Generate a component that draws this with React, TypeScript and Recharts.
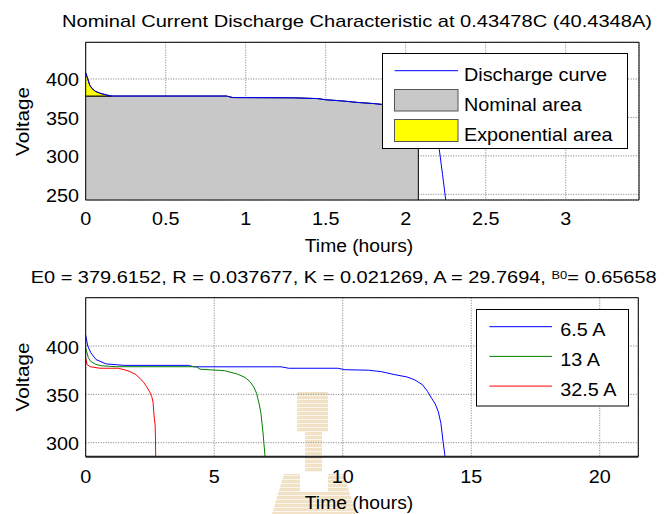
import React from "react";
import {
  ComposedChart,
  Line,
  Area,
  XAxis,
  YAxis,
  CartesianGrid,
  Legend,
  ReferenceLine,
} from "recharts";

const FONT = "'Liberation Sans', Arial, Helvetica, sans-serif";
const SX = 1.1;

// Upper plot: discharge at nominal current (40.4348 A)
const dischargeTime = [
  0, 0.01, 0.025, 0.04, 0.06, 0.09, 0.13, 0.16, 0.88, 0.92, 1.3, 1.45, 1.5, 1.6,
  1.7, 1.8, 1.9, 2.0, 2.079, 2.13, 2.17, 2.21, 2.23, 2.25, 2.26,
];
const dischargeVolt = [
  408, 402, 392, 387.5, 384, 381.4, 379.2, 377.8, 377.8, 375.8, 375.5, 374.5, 373,
  371.5, 369.5, 368, 366, 362, 356, 345, 330, 308, 276, 243, 228,
];
const nominalTime = 2.079;
const expLevel = 377.8;
const expEndTime = 0.16;
const topXTicks = [0, 0.5, 1, 1.5, 2, 2.5, 3];
const topYTicks = [250, 300, 350, 400];
const topLegend = ["Discharge curve", "Nominal area", "Exponential area"];

// Lower plot: discharge curves at three currents
const curveLabels = ["6.5 A", "13 A", "32.5 A"];
const curveColors = ["#0000ff", "#008000", "#ff0000"];
const time65 = [
  0, 0.08, 0.2, 0.4, 0.8, 1.5, 4.0, 4.2, 7.6, 7.9, 9.8, 10.1, 11.0, 11.5, 12.0,
  12.5, 12.8, 13.1, 13.3, 13.46, 13.6, 13.72, 13.82, 13.91, 13.97, 14.0,
];
const volt65 = [
  411, 400, 393, 386, 381.5, 380, 380, 378.5, 378.5, 377, 377, 375.5, 375, 373.5,
  370.5, 368, 365, 360, 353, 346, 340, 332, 320, 300, 288, 280,
];
const time13 = [
  0, 0.1, 0.2, 0.4, 0.6, 1.2, 4.3, 4.45, 5.4, 5.9, 6.2, 6.4, 6.55, 6.65, 6.75,
  6.82, 6.9, 6.98, 7.0,
];
const volt13 = [
  398, 388, 384, 381, 379.6, 378.6, 378.6, 376, 374.5, 371, 367.5, 363, 357, 351,
  340, 330, 310, 285, 278,
];
const time325 = [
  0, 0.05, 0.17, 0.56, 1.27, 1.5, 1.72, 1.95, 2.11, 2.25, 2.37, 2.5, 2.57, 2.62,
  2.645, 2.67, 2.7, 2.715, 2.725,
];
const volt325 = [
  388, 381, 378.6, 377, 377, 375.5, 373.6, 370.5, 366.6, 362.5, 358, 352, 347.6,
  342, 333, 325, 319, 305, 280,
];
const bottomXTicks = [0, 5, 10, 15, 20];
const bottomYTicks = [300, 350, 400];

const topXDomain = [0, 3.458];
const topYDomain = [242.6, 447.7];
const bottomXDomain = [0, 21.5];
const bottomYDomain = [285.5, 450];

const discharge = dischargeTime.map((t, i) => ({ t, v: dischargeVolt[i] }));
const nominal = discharge
  .filter((p) => p.t <= nominalTime)
  .map((p) => ({ t: p.t, v: Math.min(p.v, expLevel) }));
const exponential = discharge
  .filter((p) => p.t <= expEndTime)
  .map((p) => ({ t: p.t, v: [expLevel, p.v] }));
const nominalEdge = nominal[nominal.length - 1];

const curves = [
  { name: curveLabels[0], color: curveColors[0], data: time65.map((t, i) => ({ t, v: volt65[i] })) },
  { name: curveLabels[1], color: curveColors[1], data: time13.map((t, i) => ({ t, v: volt13[i] })) },
  { name: curveLabels[2], color: curveColors[2], data: time325.map((t, i) => ({ t, v: volt325[i] })) },
];

// text stretched horizontally like the exported figure
function SText({ x, y, anchor = "start", size = 18, sx = SX, rotate = false, children }: any) {
  const t = `translate(${x},${y})${rotate ? " rotate(-90)" : ""} scale(${sx},1)`;
  return (
    <text transform={t} textAnchor={anchor} fontSize={size} fontFamily={FONT} fill="#000">
      {children}
    </text>
  );
}

const xTick = (dy: number) => (p: any) => (
  <SText x={p.x} y={p.y + dy} anchor="middle">
    {String(p.payload.value)}
  </SText>
);
const yTick = (p: any) => (
  <SText x={p.x - 6.7} y={p.y + 7.5} anchor="end">
    {String(p.payload.value)}
  </SText>
);
const noTick = () => <g />;

function TopLegendBox() {
  return (
    <svg width={247} height={97} style={{ display: "block" }}>
      <rect x={0.5} y={0.5} width={245} height={95} fill="#fff" stroke="#000" />
      <line x1={12.6} x2={76} y1={17.7} y2={17.7} stroke="#0000ff" />
      <rect x={12.5} y={36.5} width={63.5} height={21.5} fill="#c8c8c8" stroke="#555" />
      <rect x={12.5} y={66.5} width={63.5} height={22} fill="#ffff00" stroke="#555" />
      {topLegend.map((s, i) => (
        <SText key={s} x={82} y={27.7 + i * 30.2} size={18} sx={1.1}>
          {s}
        </SText>
      ))}
    </svg>
  );
}

function BottomLegendBox() {
  return (
    <svg width={154} height={98} style={{ display: "block" }}>
      <rect x={0.5} y={0.5} width={152} height={96.5} fill="#fff" stroke="#000" />
      {curves.map((c, i) => (
        <g key={c.name}>
          <line x1={13.3} x2={76} y1={17.7 + i * 29.7} y2={17.7 + i * 29.7} stroke={c.color} />
          <SText x={84.3} y={27 + i * 30} size={18} sx={1.1}>
            {c.name}
          </SText>
        </g>
      ))}
    </svg>
  );
}

// faint striped logo behind the lower plot
function Watermark() {
  return (
    <svg
      width={665}
      height={514}
      style={{ position: "absolute", left: 0, top: 0 }}
    >
      <defs>
        <pattern id="wm" width={4} height={4} patternUnits="userSpaceOnUse">
          <rect width={4} height={3.3} fill="#ebcf9f" />
        </pattern>
      </defs>
      <g opacity={0.6} fill="url(#wm)">
        <rect x={297} y={392} width={31} height={40} />
        <rect x={305} y={432} width={17} height={40} />
        <path d="M272 514 L284 474 L300 474 L300 492 L328 492 L328 474 L344 474 L356 514 Z" />
      </g>
    </svg>
  );
}

const gridProps = { stroke: "#7a7a7a", strokeDasharray: "1 1.5" };

// the four frame axes are 1px thick, so the margins leave room for them
function TopPlot() {
  return (
    <ComposedChart
      width={665}
      height={260}
      margin={{ top: 41.3, right: 25, bottom: 59, left: 84.7 }}
    >
      <CartesianGrid {...gridProps} />
      <XAxis
        type="number"
        dataKey="t"
        domain={topXDomain}
        ticks={topXTicks}
        interval={0}
        allowDataOverflow
        height={1}
        tickSize={0}
        tickMargin={0}
        tickLine={false}
        tick={xTick(25)}
        axisLine={{ stroke: "#000" }}
      />
      <YAxis
        type="number"
        domain={topYDomain}
        ticks={topYTicks}
        interval={0}
        allowDataOverflow
        width={1}
        tickSize={0}
        tickMargin={0}
        tickLine={false}
        tick={yTick}
        axisLine={{ stroke: "#000" }}
      />
      <XAxis
        xAxisId="top"
        orientation="top"
        type="number"
        domain={topXDomain}
        height={1}
        tick={noTick}
        tickLine={false}
        axisLine={{ stroke: "#000" }}
      />
      <YAxis
        yAxisId="right"
        orientation="right"
        type="number"
        domain={topYDomain}
        width={1}
        tick={noTick}
        tickLine={false}
        axisLine={{ stroke: "#000" }}
      />
      <Area
        data={nominal}
        dataKey="v"
        type="linear"
        fill="#c8c8c8"
        fillOpacity={1}
        stroke="#000"
        strokeWidth={1}
        isAnimationActive={false}
      />
      <Area
        data={exponential}
        dataKey="v"
        type="linear"
        fill="#ffff00"
        fillOpacity={1}
        stroke="#000"
        strokeWidth={1}
        isAnimationActive={false}
      />
      <ReferenceLine
        segment={[
          { x: nominalTime, y: topYDomain[0] },
          { x: nominalTime, y: nominalEdge.v },
        ]}
        stroke="#000"
      />
      <Line
        data={discharge}
        dataKey="v"
        type="linear"
        stroke="#0000ff"
        strokeWidth={1}
        dot={false}
        isAnimationActive={false}
      />
      <Legend
        layout="vertical"
        align="center"
        verticalAlign="middle"
        wrapperStyle={{ left: 381.5, top: 53, width: 247, height: 97 }}
        content={() => <TopLegendBox />}
      />
    </ComposedChart>
  );
}

function BottomPlot() {
  return (
    <ComposedChart
      width={665}
      height={254}
      margin={{ top: 36.7, right: 25.7, bottom: 56.3, left: 84.7 }}
    >
      <CartesianGrid {...gridProps} />
      <XAxis
        type="number"
        dataKey="t"
        domain={bottomXDomain}
        ticks={bottomXTicks}
        interval={0}
        allowDataOverflow
        height={1}
        tickSize={0}
        tickMargin={0}
        tickLine={false}
        tick={xTick(26.5)}
        axisLine={{ stroke: "#222", strokeWidth: 2 }}
      />
      <YAxis
        type="number"
        domain={bottomYDomain}
        ticks={bottomYTicks}
        interval={0}
        allowDataOverflow
        width={1}
        tickSize={0}
        tickMargin={0}
        tickLine={false}
        tick={yTick}
        axisLine={{ stroke: "#000" }}
      />
      <XAxis
        xAxisId="top"
        orientation="top"
        type="number"
        domain={bottomXDomain}
        height={1}
        tick={noTick}
        tickLine={false}
        axisLine={{ stroke: "#000" }}
      />
      <YAxis
        yAxisId="right"
        orientation="right"
        type="number"
        domain={bottomYDomain}
        width={1}
        tick={noTick}
        tickLine={false}
        axisLine={{ stroke: "#000" }}
      />
      {curves.map((c) => (
        <Line
          key={c.name}
          data={c.data}
          dataKey="v"
          name={c.name}
          type="linear"
          stroke={c.color}
          strokeWidth={1}
          dot={false}
          isAnimationActive={false}
        />
      ))}
      <Legend
        layout="vertical"
        align="center"
        verticalAlign="middle"
        wrapperStyle={{ left: 475.5, top: 49, width: 154, height: 98 }}
        content={() => <BottomLegendBox />}
      />
    </ComposedChart>
  );
}

export default function App() {
  return (
    <div
      style={{
        position: "absolute",
        left: 0,
        top: 0,
        width: 665,
        height: 514,
        background: "#fff",
        overflow: "hidden",
      }}
    >
      <Watermark />
      <div style={{ position: "absolute", left: 0, top: 0 }}>
        <TopPlot />
      </div>
      <div style={{ position: "absolute", left: 0, top: 260 }}>
        <BottomPlot />
      </div>
      <svg
        width={665}
        height={514}
        style={{ position: "absolute", left: 0, top: 0, pointerEvents: "none" }}
      >
        <text
          x={357}
          y={26.5}
          textAnchor="middle"
          textLength={590}
          lengthAdjust="spacingAndGlyphs"
          fontSize={17}
          fontFamily={FONT}
        >
          Nominal Current Discharge Characteristic at 0.43478C (40.4348A)
        </text>
        <SText x={359} y={252} anchor="middle" sx={1.07}>
          Time (hours)
        </SText>
        <SText x={29} y={121.5} anchor="middle" rotate sx={1.15}>
          Voltage
        </SText>
        <text
          x={30.7}
          y={283}
          textLength={626}
          lengthAdjust="spacingAndGlyphs"
          fontSize={17}
          fontFamily={FONT}
        >
          E0 = 379.6152, R = 0.037677, K = 0.021269, A = 29.7694,{" "}
          <tspan fontSize={11} dy={-4.5}>
            B0
          </tspan>
          <tspan dy={4.5}>= 0.65658</tspan>
        </text>
        <SText x={359} y={509} anchor="middle" sx={1.07}>
          Time (hours)
        </SText>
        <SText x={29} y={377} anchor="middle" rotate sx={1.15}>
          Voltage
        </SText>
      </svg>
    </div>
  );
}
